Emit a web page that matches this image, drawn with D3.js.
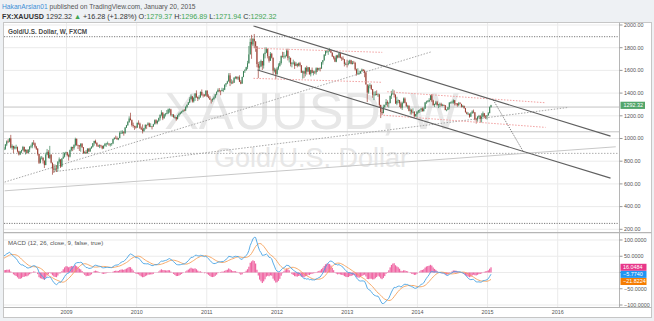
<!DOCTYPE html>
<html>
<head>
<meta charset="utf-8">
<script src="https://cdnjs.cloudflare.com/ajax/libs/d3/7.8.5/d3.min.js"></script>
<style>
  html, body { margin: 0; padding: 0; background: #eef1f4; }
  svg { display: block; font-family: "Liberation Sans", Arial, "DejaVu Sans", sans-serif; }
</style>
</head>
<body>
<div id="container"></div>
<script>
// weekly XAUUSD bars, 2007-04-02 .. 2015-01-19 (one row per year)
const closes = [
  680,693,688,679,681,673,664,657,668,659,655,655,650,656,666,681,669,673,671,663,668,672,697,710,730,742,738,753,761,784,806,834,784,821,786,802,798,812,836,862,
  897,882,911,912,907,909,947,974,973,1001,920,934,913,924,924,887,860,885,897,925,886,901,872,903,928,931,962,958,928,910,864,786,825,831,805,766,858,882,830,858,787,736,725,735,734,795,816,752,823,840,872,878,
  853,840,897,925,914,942,996,942,940,930,953,923,870,880,871,911,886,913,927,958,978,962,938,931,940,935,912,936,952,955,956,948,952,956,995,1005,1003,992,1003,1050,1050,1056,1046,1096,1117,1145,1176,1162,1118,1110,1105,1096,
  1138,1131,1091,1081,1065,1091,1119,1118,1133,1104,1106,1105,1126,1161,1136,1157,1179,1209,1229,1177,1212,1217,1223,1256,1256,1208,1210,1189,1189,1170,1204,1215,1227,1236,1247,1246,1277,1297,1318,1347,1371,1326,1358,1397,1366,1351,1363,1410,1385,1380,1379,1421,
  1369,1360,1342,1340,1348,1361,1388,1410,1428,1420,1418,1428,1430,1474,1486,1503,1556,1491,1493,1491,1536,1542,1529,1539,1500,1483,1542,1593,1601,1628,1663,1741,1851,1829,1877,1856,1813,1656,1624,1636,1683,1643,1744,1757,1788,1725,1685,1746,1712,1598,1606,1566,
  1617,1640,1665,1727,1725,1725,1725,1774,1710,1711,1656,1662,1668,1640,1659,1642,1663,1645,1580,1592,1572,1623,1590,1627,1566,1604,1579,1589,1582,1619,1606,1620,1616,1671,1690,1740,1772,1772,1773,1780,1757,1724,1711,1677,1731,1714,1751,1711,1705,1697,1657,1657,1656,
  1662,1688,1657,1667,1666,1609,1572,1572,1576,1592,1606,1595,1581,1476,1405,1462,1469,1435,1385,1386,1392,1383,1387,1296,1234,1223,1277,1294,1322,1310,1313,1376,1395,1395,1387,1308,1332,1338,1309,1272,1314,1352,1314,1287,1287,1244,1250,1230,1234,1196,1214,1237,
  1247,1253,1265,1240,1262,1318,1325,1326,1339,1380,1335,1294,1304,1318,1294,1300,1302,1290,1293,1292,1250,1253,1275,1316,1316,1317,1337,1310,1307,1294,1310,1305,1280,1287,1268,1231,1216,1218,1192,1222,1238,1231,1171,1169,1190,1197,1175,1192,1222,1196,1195,1204,
  1223,1276.04,1292.32
];
const highs = [
  684,695,697,689,691,689,675,668,672,677,663,663,658,660,670,683,686,679,681,675,672,679,702,715,737,745,746,756,771,785,808,845,831,828,826,807,813,814,840,866,
  900,915,914,932,925,924,952,983,993,1005,1032,948,936,936,945,929,893,889,901,935,929,905,896,904,932,946,968,986,965,935,915,865,842,846,833,798,875,908,897,935,860,787,774,770,766,800,833,816,827,881,877,884,
  882,862,902,929,927,949,1007,1001,946,935,959,960,925,891,898,913,914,920,932,960,981,990,966,945,948,945,937,940,961,962,973,957,957,960,998,1011,1025,1018,1006,1062,1070,1072,1065,1101,1120,1153,1195,1227,1167,1140,1113,1112,
  1140,1160,1140,1105,1124,1094,1126,1122,1143,1140,1134,1110,1130,1168,1170,1158,1184,1211,1249,1231,1218,1225,1251,1264,1266,1262,1214,1216,1204,1190,1208,1227,1236,1243,1254,1259,1284,1300,1321,1364,1388,1373,1364,1398,1424,1371,1381,1415,1432,1395,1392,1424,
  1425,1389,1375,1343,1354,1371,1392,1415,1441,1445,1425,1447,1445,1476,1489,1509,1575,1577,1522,1511,1539,1549,1549,1548,1557,1515,1545,1594,1610,1632,1684,1815,1881,1913,1885,1921,1838,1808,1675,1680,1695,1682,1751,1803,1802,1793,1708,1762,1754,1710,1624,1617,
  1630,1662,1681,1731,1764,1762,1738,1790,1792,1727,1710,1674,1695,1680,1675,1657,1670,1675,1647,1598,1597,1628,1641,1630,1627,1605,1625,1598,1597,1627,1625,1623,1627,1675,1691,1741,1778,1779,1787,1796,1785,1754,1729,1723,1737,1738,1754,1754,1720,1724,1700,1670,1694,
  1686,1695,1693,1683,1684,1675,1615,1619,1597,1596,1616,1612,1606,1589,1476,1476,1487,1476,1434,1413,1417,1424,1398,1394,1297,1268,1298,1299,1348,1336,1322,1377,1420,1434,1424,1387,1368,1344,1337,1324,1325,1361,1362,1322,1297,1294,1265,1262,1267,1242,1216,1240,
  1251,1256,1270,1274,1274,1320,1333,1339,1355,1383,1392,1341,1307,1331,1331,1304,1315,1315,1305,1300,1295,1258,1276,1321,1325,1332,1345,1340,1312,1312,1322,1321,1303,1296,1290,1267,1237,1231,1220,1232,1248,1255,1232,1182,1198,1208,1206,1222,1238,1225,1205,1206,
  1233,1282,1296.89
];
const lows = [
  664,676,681,672,673,670,660,655,651,657,644,649,642,648,652,664,662,658,664,642,658,661,671,694,706,725,726,730,748,756,780,800,778,790,780,782,787,790,810,834,
  855,865,862,893,880,897,900,933,960,967,913,901,871,904,905,877,850,854,870,892,878,859,865,871,880,915,914,943,914,899,850,775,780,816,779,740,765,852,825,820,780,681,697,710,705,710,778,740,752,825,833,858,
  842,805,833,886,889,900,930,935,907,890,883,917,866,865,865,866,880,883,910,920,937,953,927,925,915,920,905,911,930,927,945,934,929,936,950,990,1000,990,985,1003,1040,1040,1025,1043,1092,1112,1138,1160,1105,1095,1076,1087,
  1094,1121,1085,1075,1044,1060,1080,1085,1114,1100,1101,1080,1104,1124,1125,1125,1146,1158,1196,1162,1183,1194,1212,1215,1228,1196,1190,1182,1176,1157,1175,1192,1212,1221,1232,1240,1241,1266,1295,1312,1343,1316,1316,1331,1357,1330,1342,1359,1376,1361,1368,1372,
  1364,1354,1340,1308,1324,1340,1355,1381,1406,1406,1381,1416,1409,1426,1456,1479,1502,1462,1478,1481,1490,1523,1521,1515,1497,1478,1483,1540,1577,1598,1611,1660,1758,1702,1813,1795,1764,1628,1532,1600,1630,1603,1616,1706,1752,1706,1669,1684,1705,1562,1582,1523,
  1563,1605,1633,1651,1713,1703,1706,1726,1688,1670,1635,1627,1652,1613,1640,1627,1635,1633,1578,1527,1532,1547,1563,1587,1562,1547,1576,1556,1568,1563,1587,1598,1591,1615,1651,1685,1727,1753,1737,1764,1752,1718,1697,1673,1672,1705,1711,1705,1684,1692,1635,1646,1626,
  1645,1657,1653,1652,1660,1598,1554,1565,1562,1572,1589,1590,1540,1476,1321,1394,1443,1427,1359,1338,1377,1381,1366,1269,1180,1207,1233,1268,1292,1280,1272,1309,1349,1387,1361,1306,1293,1311,1277,1262,1251,1309,1310,1277,1262,1239,1211,1210,1221,1186,1193,1182,
  1222,1225,1234,1238,1239,1262,1305,1318,1320,1337,1321,1290,1277,1295,1291,1268,1277,1283,1283,1286,1250,1240,1250,1257,1307,1309,1306,1292,1290,1280,1284,1303,1273,1275,1262,1229,1212,1207,1183,1191,1218,1222,1160,1131,1148,1177,1142,1141,1190,1179,1171,1167,
  1201,1225,1271.94
];
const lastBarDate = Date.UTC(2015, 0, 19);
const lastOpen = 1279.37;

const priceTicks = [200, 400, 600, 800, 1000, 1200, 1400, 1600, 1800, 2000];
const macdTicks = [100, 50, 0, -50, -100];
const yearTicks = [2009, 2010, 2011, 2012, 2013, 2014, 2015, 2016];

// values printed on the MACD scale
const macdLabels = [
  { value: 16.0484, color: "#e8388a" },   // histogram
  { value: -5.7740, color: "#2196f3" },   // macd
  { value: -21.8224, color: "#f57c00" }   // signal
];

// drawings, in [date, price]
const levelLines = [1897, 252];
const grayLevels = [1277, 1059];
const dottedLevels = [869];
const channelLines = [
  [["2011-09-01", 1991], ["2016-10-02", 1021]],
  [["2011-09-22", 1603], ["2016-10-02", 651]]
];
const projectionLine = [["2015-01-31", 1339], ["2015-07-06", 884]];
const pinkLines = [
  [["2011-09-11", 1795], ["2013-07-02", 1759]],
  [["2011-09-01", 1530], ["2013-07-03", 1495]],
  [["2013-07-28", 1412], ["2015-10-30", 1315]],
  [["2013-06-23", 1207], ["2015-10-30", 1098]]
];
const grayTrendLines = [
  [["2008-02-14", 616], ["2014-03-11", 1762]],
  [["2008-10-26", 707], ["2016-02-27", 1274]]
];
const lightTrendLines = [
  [["2008-02-14", 539], ["2016-10-29", 927]]
];

// layout
const width = 654, height = 321;
const plotL = 4, plotR = 619;
const mainTop = 23, mainBot = 232;
const macdTop = 233.5, macdBot = 307;
const upColor = "#3a8156", downColor = "#9c3f33";

const bars = closes.map((c, i) => ({
  date: new Date(lastBarDate - (closes.length - 1 - i) * 7 * 864e5),
  open: i === closes.length - 1 ? lastOpen : (i > 0 ? closes[i - 1] : c),
  high: highs[i], low: lows[i], close: c
}));

// MACD (12, 26, close, 9, signal as SMA)
function ema(arr, n) {
  const k = 2 / (n + 1);
  let prev;
  return arr.map((v, i) => (prev = i === 0 ? v : v * k + prev * (1 - k)));
}
function sma(arr, n) {
  return arr.map((v, i) => d3.mean(arr.slice(Math.max(0, i - n + 1), i + 1)));
}
const fast = ema(closes, 12), slow = ema(closes, 26);
const macd = fast.map((v, i) => v - slow[i]);
const signal = sma(macd, 9);
bars.forEach((b, i) => { b.macd = macd[i]; b.signal = signal[i]; b.hist = macd[i] - signal[i]; });

const parse = d3.utcParse("%Y-%m-%d");

const x = d3.scaleUtc()
  .domain([new Date(Date.UTC(2009, 0, 1)), new Date(Date.UTC(2016, 0, 1))])
  .range([66.5, 557.7]);
const y = d3.scaleLinear().domain([200, 2000]).range([229.3, 25]);
const ym = d3.scaleLinear().domain([-100, 100]).range([305, 240]);

const svg = d3.select("#container").append("svg")
  .attr("width", width).attr("height", height);

// header
const head = svg.append("g");
const l1 = head.append("text").attr("x", 2).attr("y", 9).attr("font-size", 6.7);
l1.append("tspan").attr("fill", "#3d8fd6").text("HakanArslan01");
l1.append("tspan").attr("fill", "#555").text(" published on TradingView.com, January 20, 2015");
const green = "#3fa653";
const l2 = head.append("text").attr("x", 2).attr("y", 18.5).attr("font-size", 7.2).attr("fill", "#333");
[
  ["FX:XAUUSD ", "#333", "bold"], ["1292.32 ", "#333"], ["\u25B2", green], [" +16.28 (+1.28%) ", "#333"],
  ["O:", "#333"], ["1279.37 ", green], ["H:", "#333"], ["1296.89 ", green],
  ["L:", "#333"], ["1271.94 ", green], ["C:", "#333"], ["1292.32", green]
].forEach(([t, c, w]) => l2.append("tspan").attr("fill", c).attr("font-weight", w || null).text(t));

// frame
svg.append("rect").attr("x", 3.5).attr("y", 22.5).attr("width", 648).attr("height", 295)
  .attr("fill", "#fff").attr("stroke", "#c6c6c6");

svg.append("clipPath").attr("id", "clipMain").append("rect")
  .attr("x", plotL).attr("y", mainTop).attr("width", plotR - plotL).attr("height", mainBot - mainTop);
svg.append("clipPath").attr("id", "clipMacd").append("rect")
  .attr("x", plotL).attr("y", macdTop).attr("width", plotR - plotL).attr("height", macdBot - macdTop);

const gridColor = "#ebebeb";
const yearDates = yearTicks.map(yr => new Date(Date.UTC(yr, 0, 1)));

// vertical grid
svg.append("g").selectAll("line").data(yearDates).join("line")
  .attr("x1", d => x(d)).attr("x2", d => x(d))
  .attr("y1", mainTop).attr("y2", macdBot)
  .attr("stroke", gridColor);

// ---- main pane
const main = svg.append("g").attr("clip-path", "url(#clipMain)");

main.append("g").selectAll("line").data(priceTicks).join("line")
  .attr("x1", plotL).attr("x2", plotR)
  .attr("y1", d => y(d)).attr("y2", d => y(d))
  .attr("stroke", gridColor);

const cx = (plotL + plotR) / 2;
main.append("text").attr("x", cx).attr("y", 129).attr("text-anchor", "middle")
  .attr("font-size", 52).attr("fill", "#e7e7e7").text("XAUUSD, W");
main.append("text").attr("x", cx).attr("y", 167).attr("text-anchor", "middle")
  .attr("font-size", 27).attr("fill", "#e7e7e7").text("Gold/U.S. Dollar");

main.append("text").attr("x", 8).attr("y", 34).attr("font-size", 6.4)
  .attr("font-weight", "bold").attr("fill", "#4a4a4a").text("Gold/U.S. Dollar, W, FXCM");

const line = d3.line().x(d => x(parse(d[0]))).y(d => y(d[1]));

// horizontal levels
main.append("g").selectAll("line").data(grayLevels).join("line")
  .attr("x1", plotL).attr("x2", plotR).attr("y1", d => y(d)).attr("y2", d => y(d))
  .attr("stroke", "#c4c4c4");
main.append("g").selectAll("line").data(dottedLevels).join("line")
  .attr("x1", plotL).attr("x2", plotR).attr("y1", d => y(d)).attr("y2", d => y(d))
  .attr("stroke", "#b0b0b0").attr("stroke-dasharray", "1.5,1.5");
main.append("g").selectAll("line").data(levelLines).join("line")
  .attr("x1", plotL).attr("x2", plotR).attr("y1", d => y(d)).attr("y2", d => y(d))
  .attr("stroke", "#7a7a7a").attr("stroke-dasharray", "1.2,1.3");

main.append("g").selectAll("path").data(lightTrendLines).join("path")
  .attr("d", line).attr("fill", "none").attr("stroke", "#c8c8c8");
main.append("g").selectAll("path").data(grayTrendLines).join("path")
  .attr("d", line).attr("fill", "none").attr("stroke", "#a8a8a8").attr("stroke-dasharray", "1.5,1.5");

// candles
const bw = x(new Date(Date.UTC(2010, 0, 8))) - x(new Date(Date.UTC(2010, 0, 1)));
const candles = main.append("g").selectAll("g").data(bars).join("g")
  .attr("stroke", d => d.close >= d.open ? upColor : downColor)
  .attr("fill", d => d.close >= d.open ? upColor : downColor);
candles.append("line")
  .attr("x1", d => x(d.date)).attr("x2", d => x(d.date))
  .attr("y1", d => y(Math.max(d.high, d.open, d.close)))
  .attr("y2", d => y(Math.min(d.low, d.open, d.close)))
  .attr("stroke-width", 0.7);
candles.append("rect")
  .attr("stroke", "none")
  .attr("x", d => x(d.date) - bw * 0.38).attr("width", bw * 0.76)
  .attr("y", d => y(Math.max(d.open, d.close)))
  .attr("height", d => Math.max(0.6, Math.abs(y(d.open) - y(d.close))));

main.append("g").selectAll("path").data(pinkLines).join("path")
  .attr("d", line).attr("fill", "none").attr("stroke", "#f2a0a0").attr("stroke-dasharray", "1.5,1.5");
main.append("g").selectAll("path").data(channelLines).join("path")
  .attr("d", line).attr("fill", "none").attr("stroke", "#606060").attr("stroke-width", 1.1);
main.append("path").datum(projectionLine)
  .attr("d", line).attr("fill", "none").attr("stroke", "#555").attr("stroke-width", 0.8)
  .attr("stroke-dasharray", "1.2,1.2");

// ---- MACD pane
const mp = svg.append("g").attr("clip-path", "url(#clipMacd)");
mp.append("g").selectAll("line").data(macdTicks).join("line")
  .attr("x1", plotL).attr("x2", plotR)
  .attr("y1", d => ym(d)).attr("y2", d => ym(d))
  .attr("stroke", gridColor);
mp.append("g").selectAll("rect").data(bars).join("rect")
  .attr("x", d => x(d.date) - bw * 0.45).attr("width", bw * 0.9)
  .attr("y", d => Math.min(ym(0), ym(d.hist)))
  .attr("height", d => Math.abs(ym(d.hist) - ym(0)))
  .attr("fill", "#ec4b93").attr("opacity", 0.85);
mp.append("path").datum(bars)
  .attr("d", d3.line().x(d => x(d.date)).y(d => ym(d.signal)))
  .attr("fill", "none").attr("stroke", "#f5a05a").attr("stroke-width", 0.9);
mp.append("path").datum(bars)
  .attr("d", d3.line().x(d => x(d.date)).y(d => ym(d.macd)))
  .attr("fill", "none").attr("stroke", "#47a3e3").attr("stroke-width", 0.9);
svg.append("text").attr("x", 8).attr("y", 245).attr("font-size", 6.1).attr("fill", "#555")
  .text("MACD (12, 26, close, 9, false, true)");

// separators / axis lines
svg.append("line").attr("x1", 3.5).attr("x2", 651.5).attr("y1", 232.7).attr("y2", 232.7)
  .attr("stroke", "#b5b5b5").attr("stroke-width", 1.3);
svg.append("line").attr("x1", 3.5).attr("x2", 651.5).attr("y1", macdBot + 0.5).attr("y2", macdBot + 0.5)
  .attr("stroke", "#b5b5b5");
svg.append("line").attr("x1", plotR + 0.5).attr("x2", plotR + 0.5).attr("y1", 22.5).attr("y2", macdBot + 0.5)
  .attr("stroke", "#b5b5b5");

// price axis
const axisFont = 5.4;
const pa = svg.append("g").selectAll("g").data(priceTicks).join("g")
  .attr("transform", d => `translate(${plotR + 0.5},${y(d)})`);
pa.append("line").attr("x2", 3).attr("stroke", "#999");
pa.append("text").attr("x", 4.5).attr("dy", "0.35em").attr("font-size", axisFont).attr("fill", "#555")
  .text(d => d3.format(".2f")(d));

const last = bars[bars.length - 1];
const pl = svg.append("g").attr("transform", `translate(${plotR + 1.5},${y(last.close)})`);
pl.append("rect").attr("y", -3.6).attr("width", 24.5).attr("height", 7.2).attr("fill", "#53a66b");
pl.append("text").attr("x", 3).attr("dy", "0.35em").attr("font-size", axisFont).attr("fill", "#fff")
  .text(d3.format(".2f")(last.close));

// macd axis: value boxes stacked, tick labels hidden where a box covers them
const boxes = [];
let prevY = -Infinity;
macdLabels.forEach(l => {
  const ly = Math.max(ym(l.value), prevY + 7.1);
  prevY = ly;
  boxes.push({ ...l, y: ly });
});
const ma = svg.append("g").selectAll("g").data(macdTicks).join("g")
  .attr("transform", d => `translate(${plotR + 0.5},${ym(d)})`);
ma.append("line").attr("x2", 3).attr("stroke", "#999");
ma.filter(d => boxes.every(b => Math.abs(b.y - ym(d)) > 6.3))
  .append("text").attr("x", 4.5).attr("dy", "0.35em").attr("font-size", axisFont).attr("fill", "#555")
  .text(d => d3.format(".4f")(d));

boxes.forEach(b => {
  const g = svg.append("g").attr("transform", `translate(${plotR + 1.5},${b.y})`);
  g.append("rect").attr("y", -3.5).attr("width", 26).attr("height", 7).attr("fill", b.color);
  g.append("text").attr("x", 2.5).attr("dy", "0.35em").attr("font-size", axisFont).attr("fill", "#fff")
    .text(d3.format(".4f")(b.value));
});

// time axis
svg.append("g").selectAll("text").data(yearDates).join("text")
  .attr("x", d => x(d)).attr("y", 314).attr("text-anchor", "middle")
  .attr("font-size", axisFont).attr("fill", "#555")
  .text(d3.utcFormat("%Y"));
</script>
</body>
</html>
